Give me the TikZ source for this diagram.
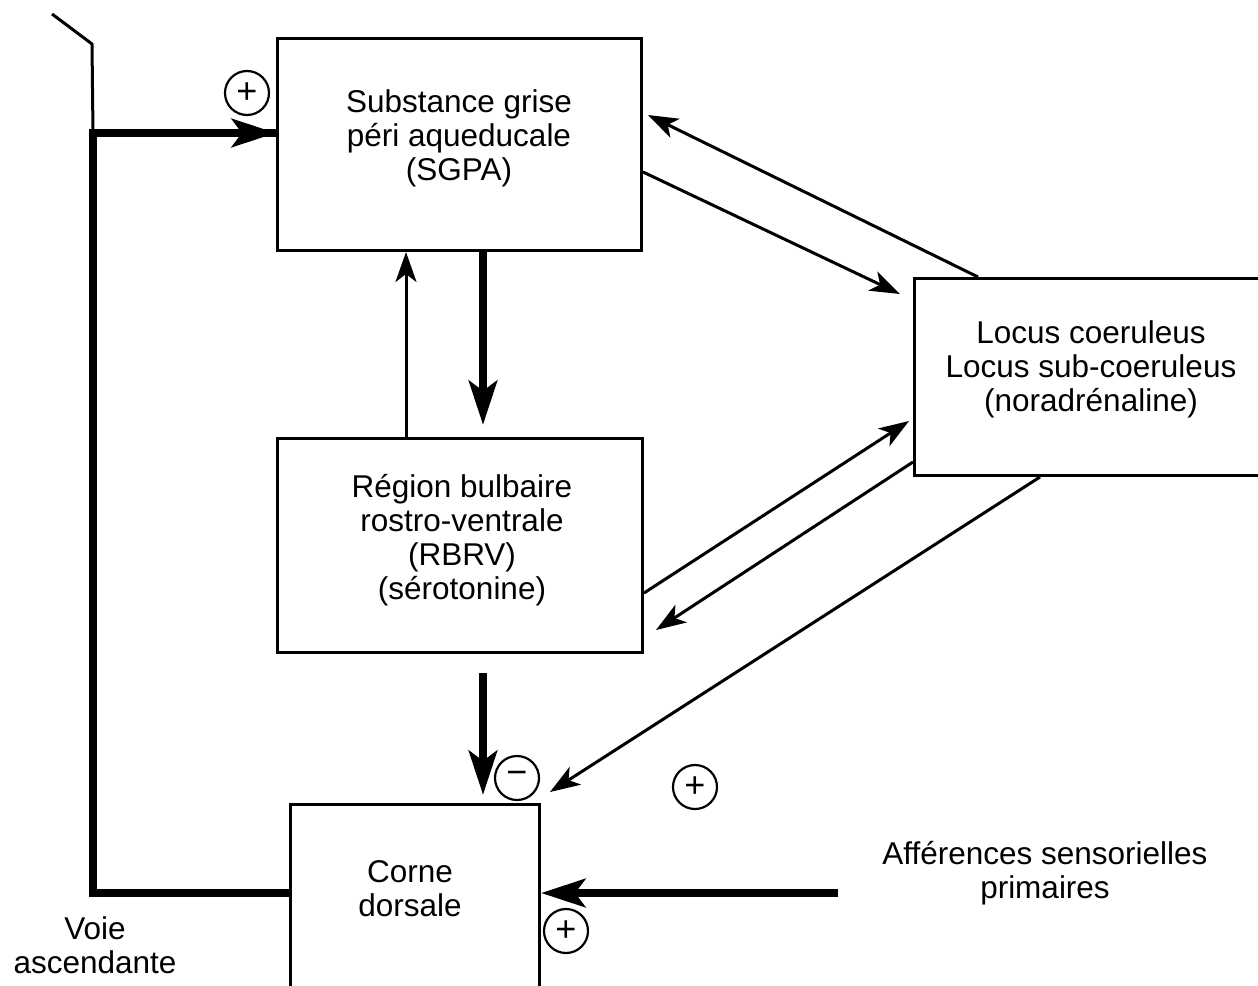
\documentclass[tikz,border=0pt]{standalone}
\usepackage{fontspec}
\setmainfont{Liberation Sans}
\usetikzlibrary{arrows.meta,calc}

\tikzset{
  box/.style={draw, line width=3pt, rectangle, inner sep=0pt, anchor=north west},
  txt/.style={align=center, inner sep=0pt, font=\fontsize{31.5}{34}\selectfont},
  thin/.style={line width=3pt, -{Stealth[length=30pt, width=21pt, inset=8pt]}},
  thick/.style={line width=8.5pt, -{Stealth[length=44pt, width=28pt, inset=10pt]}},
  sign/.style={draw, circle, line width=2.2pt, minimum size=44pt, inner sep=0pt,
    font=\fontsize{36}{36}\selectfont},
}

\begin{document}
\begin{tikzpicture}[x=1pt, y=-1pt]
  \useasboundingbox (0,0) rectangle (1258,985);
  \clip (0,0) rectangle (1258,985);
  \fill[white] (0,0) rectangle (1258,985);

  % boxes
  \node[box, minimum width=364pt, minimum height=212pt] (sgpa)  at (276,37)  {};
  \node[box, minimum width=365pt, minimum height=214pt] (rbrv)  at (276,437) {};
  \node[box, minimum width=380pt, minimum height=197pt] (locus) at (913,277) {};
  \node[box, minimum width=249pt, minimum height=200pt] (corne) at (289,803) {};

  % box texts
  \node[txt] (sgpaT)  at (459,138) {Substance grise\\péri aqueducale\\(SGPA)};
  \node[txt] (rbrvT)  at (462,540) {Région bulbaire\\rostro-ventrale\\(RBRV)\\(sérotonine)};
  \node[txt] (locusT) at (1091,369) {Locus coeruleus\\Locus sub-coeruleus\\(noradrénaline)};
  \node[txt] (corneT) at (410,889) {Corne\\dorsale};

  % free labels
  \node[txt] (voie) at (95,945) {Voie\\ascendante};
  \node[txt] (aff)  at (1045,873) {Afférences sensorielles\\primaires};

  % signs
  \node[sign] (p1) at (247,93)  {+};
  \node[sign] (m1) at (517,778) {−};
  \node[sign] (p2) at (695,787) {+};
  \node[sign] (p3) at (566,931) {+};

  % SGPA <-> Locus
  \draw[thin] ($(sgpa.north east)+(0,135)$) -- ($(locus.north west)+(-13,17)$);
  \draw[thin] ($(locus.north west)+(65,0)$) -- ($(sgpa.north east)+(5,78)$);

  % RBRV <-> Locus
  \draw[thin] ($(rbrv.north east)+(0,156)$) -- ($(locus.north west)+(-4,144)$);
  \draw[thin] ($(locus.north west)+(0,185)$) -- ($(rbrv.north east)+(12,193)$);

  % Locus -> corne dorsale
  \draw[thin] ($(locus.south west)+(127,0)$) -- ($(corne.north east)+(9,-11)$);

  % SGPA <-> RBRV
  \draw[thick] ($(sgpa.south west)+(207,0)$) -- ($(rbrv.north west)+(207,-12)$);
  \draw[thin] ($(rbrv.north west)+(130,0)$) -- ($(sgpa.south west)+(130,0)$);

  % RBRV -> corne dorsale
  \draw[thick] ($(rbrv.south west)+(207,19)$) -- ($(corne.north west)+(194,-8)$);

  % primary afferents
  \coordinate (affStart) at (838,893);
  \draw[thick] (affStart) -- ($(corne.north east)+(0,90)$);

  % ascending pathway
  \coordinate (ascLow) at (93,893);
  \coordinate (ascHigh) at (93,133);
  \draw[line width=8.5pt, line join=miter] ($(corne.north west)+(0,90)$) -- (ascLow) -- (ascHigh) -- (ascHigh -| sgpa.west);
  \draw[thick] (ascHigh) -- ($(sgpa.north west)+(0,96)$);

  % upper pathway
  \coordinate (topA) at (52,14);
  \coordinate (topB) at (92,44);
  \draw[line width=3pt] (topA) -- (topB) -- (ascHigh);
\end{tikzpicture}
\end{document}
